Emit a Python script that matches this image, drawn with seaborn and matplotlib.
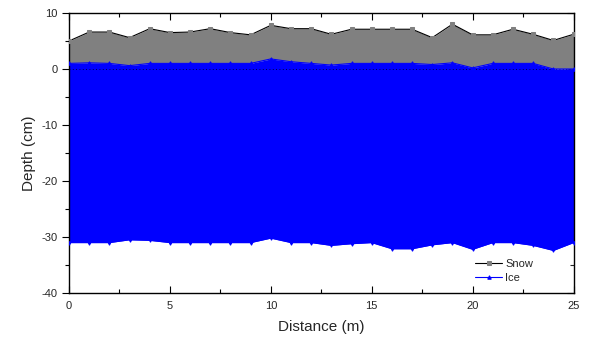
import numpy as np
import pandas as pd
import matplotlib
matplotlib.use("Agg")
import matplotlib.pyplot as plt
import seaborn as sns

distance = [0, 1, 2, 3, 4, 5, 6, 7, 8, 9, 10, 11, 12, 13, 14, 15, 16, 17, 18, 19, 20, 21, 22, 23, 24, 25]
snow_top = [5.0, 6.6, 6.6, 5.6, 7.2, 6.5, 6.6, 7.2, 6.5, 6.1, 7.8, 7.2, 7.2, 6.2, 7.1, 7.1, 7.1, 7.1, 5.6, 8.0, 6.1, 6.1, 7.1, 6.2, 5.1, 6.2]
ice_top = [1.0, 1.1, 1.0, 0.6, 1.0, 1.0, 1.0, 1.0, 1.0, 1.0, 1.8, 1.3, 1.0, 0.7, 1.0, 1.0, 1.0, 1.0, 0.8, 1.1, 0.2, 1.0, 1.0, 1.0, 0.0, 0.0]
ice_bottom = [-31.0, -31.0, -31.0, -30.5, -30.6, -31.0, -31.0, -31.0, -31.0, -31.0, -30.2, -31.0, -31.0, -31.5, -31.2, -31.0, -32.1, -32.1, -31.4, -31.0, -32.2, -31.0, -31.0, -31.5, -32.4, -31.0]

df = pd.DataFrame({"Distance": distance, "Snow": snow_top, "IceTop": ice_top, "IceBottom": ice_bottom})

sns.set_style("white")
plt.rcParams["font.family"] = ["Liberation Sans", "DejaVu Sans"]
plt.rcParams["axes.unicode_minus"] = False

fig = plt.figure(figsize=(6, 3.5), dpi=100)
ax = fig.add_axes([69 / 600, 1 - 293 / 350, (573.5 - 69) / 600, (293 - 13) / 350])

ax.fill_between(df["Distance"], df["IceTop"], df["Snow"], color="#808080", linewidth=0, zorder=1)
ax.fill_between(df["Distance"], df["IceBottom"], df["IceTop"], color="#0000FF", linewidth=0, zorder=1)
ax.axhline(0, color="black", linestyle=(0, (1, 3)), linewidth=0.6, zorder=1.5)

sns.lineplot(data=df, x="Distance", y="Snow", ax=ax, color="black", linewidth=0.8,
             marker="s", markersize=2.5, markerfacecolor="#808080", markeredgecolor="#808080",
             label="Snow", zorder=3)
sns.lineplot(data=df, x="Distance", y="IceTop", ax=ax, color="#0000FF", linewidth=0.8,
             marker="^", markersize=2.5, markerfacecolor="#0000FF", markeredgecolor="#0000FF",
             label="Ice", zorder=3)
sns.lineplot(data=df, x="Distance", y="IceBottom", ax=ax, color="#0000FF", linewidth=0.8,
             marker="v", markersize=2.5, markerfacecolor="#0000FF", markeredgecolor="#0000FF",
             legend=False, zorder=3)

ax.set_xlim(0, 25)
ax.set_ylim(-40, 10)
ax.set_xticks([0, 5, 10, 15, 20, 25])
ax.set_xticks([2.5, 7.5, 12.5, 17.5, 22.5], minor=True)
ax.set_yticks([-40, -30, -20, -10, 0, 10])
ax.set_yticks([-35, -25, -15, -5, 5], minor=True)

ax.tick_params(axis="x", which="both", direction="in", top=True, bottom=True, labelsize=8, color="black")
ax.tick_params(axis="x", which="major", length=5, width=0.8, pad=6)
ax.tick_params(axis="x", which="minor", length=3, width=0.8)
ax.tick_params(axis="y", which="both", direction="out", left=True, right=False, labelsize=8, color="black")
ax.tick_params(axis="y", which="major", length=5, width=0.8, pad=3)
ax.tick_params(axis="y", which="minor", length=3, width=0.8)
ax2 = ax.secondary_yaxis("right")
ax2.set_yticks([-40, -30, -20, -10, 0, 10])
ax2.set_yticks([-35, -25, -15, -5, 5], minor=True)
ax2.tick_params(which="both", direction="in", labelright=False)
ax2.tick_params(which="major", length=5, width=0.8)
ax2.tick_params(which="minor", length=3, width=0.8)

for s in ax.spines.values():
    s.set_color("black")
    s.set_linewidth(1.0)
for s in ax2.spines.values():
    s.set_visible(False)

ax.set_xlabel("Distance (m)", fontsize=11, labelpad=6)
ax.set_ylabel("Depth (cm)", fontsize=11, labelpad=4)

leg = ax.legend(loc="lower right", frameon=False, fontsize=8, handlelength=2.4,
                handletextpad=0.3, labelspacing=0.35, bbox_to_anchor=(0.94, 0.0))

fig.savefig("out.png", dpi=100)
